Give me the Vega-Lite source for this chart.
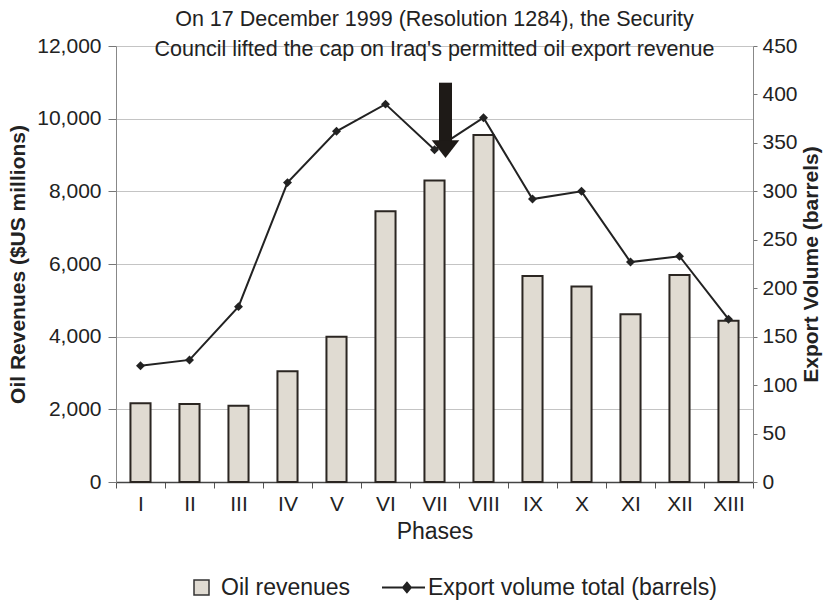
{
  "$schema": "https://vega.github.io/schema/vega-lite/v6.json",
  "width": 637,
  "height": 436,
  "autosize": {"type": "none"},
  "padding": {"left": 116, "top": 46, "right": 83, "bottom": 122},
  "background": "white",
  "config": {
    "font": "Liberation Sans",
    "view": {"stroke": null},
    "axis": {"labelColor": "#222", "titleColor": "#222", "labelFont": "Liberation Sans", "titleFont": "Liberation Sans"}
  },
  "title": {
    "text": ["On 17 December 1999 (Resolution 1284), the Security", "Council lifted the cap on Iraq's permitted oil export revenue"],
    "fontSize": 21.5,
    "fontWeight": "normal",
    "font": "Liberation Sans",
    "color": "#222",
    "lineHeight": 30,
    "anchor": "middle",
    "baseline": "bottom",
    "offset": -47
  },
  "datasets": {
    "phases": [
      {"phase": "I", "revenue": 2170, "volume": 120},
      {"phase": "II", "revenue": 2150, "volume": 126},
      {"phase": "III", "revenue": 2100, "volume": 181},
      {"phase": "IV", "revenue": 3050, "volume": 309},
      {"phase": "V", "revenue": 4000, "volume": 362},
      {"phase": "VI", "revenue": 7450, "volume": 390},
      {"phase": "VII", "revenue": 8300, "volume": 343},
      {"phase": "VIII", "revenue": 9550, "volume": 376},
      {"phase": "IX", "revenue": 5670, "volume": 292},
      {"phase": "X", "revenue": 5380, "volume": 300},
      {"phase": "XI", "revenue": 4620, "volume": 227},
      {"phase": "XII", "revenue": 5700, "volume": 233},
      {"phase": "XIII", "revenue": 4440, "volume": 168}
    ],
    "arrow": [
      {"phase": "VII", "top": 10990, "base": 9300, "head": 9173}
    ]
  },
  "layer": [
    {
      "data": {"name": "phases"},
      "mark": {"type": "bar", "width": {"band": 0.41}, "stroke": "#2b2622", "strokeWidth": 2},
      "encoding": {
        "x": {
          "field": "phase", "type": "ordinal",
          "scale": {"domain": ["I","II","III","IV","V","VI","VII","VIII","IX","X","XI","XII","XIII"], "paddingInner": 0, "paddingOuter": 0},
          "axis": {
            "title": "Phases", "titleFontSize": 23, "titleFontWeight": "normal", "titlePadding": 6,
            "labelFontSize": 21, "labelAngle": 0, "labelPadding": 5,
            "tickBand": "extent", "tickSize": 6, "tickColor": "#555", "domainColor": "#444", "domainWidth": 1.5
          }
        },
        "y": {
          "field": "revenue", "type": "quantitative",
          "scale": {"domain": [0, 12000], "nice": false},
          "axis": {
            "title": "Oil Revenues ($US millions)", "titleFontSize": 21, "titleFontWeight": "bold", "titlePadding": 8,
            "values": [0, 2000, 4000, 6000, 8000, 10000, 12000], "format": ",.0f",
            "labelFontSize": 21, "labelPadding": 7, "tickSize": 8, "tickColor": "#777",
            "domainColor": "#888", "gridColor": "#c4c4c4", "grid": true
          }
        },
        "fill": {
          "datum": "Oil revenues", "type": "nominal",
          "scale": {"domain": ["Oil revenues"], "range": ["#e0dbd2"]},
          "legend": {
            "title": null, "orient": "none", "legendX": 74, "legendY": 530,
            "labelFontSize": 23, "labelColor": "#222", "labelFont": "Liberation Sans", "labelLimit": 0,
            "symbolType": "square", "symbolSize": 225, "labelOffset": 8,
            "symbolStrokeWidth": 1.5, "symbolStrokeColor": "#333", "symbolOpacity": 1
          }
        }
      }
    },
    {
      "data": {"name": "phases"},
      "mark": {"type": "line", "strokeWidth": 2},
      "encoding": {
        "x": {"field": "phase", "type": "ordinal"},
        "y": {
          "field": "volume", "type": "quantitative",
          "scale": {"domain": [0, 450], "nice": false},
          "axis": {
            "orient": "right", "title": "Export Volume (barrels)", "titleFontSize": 21, "titleFontWeight": "bold",
            "titleAngle": 270, "titleBaseline": "top", "titlePadding": 3,
            "values": [0, 50, 100, 150, 200, 250, 300, 350, 400, 450],
            "labelFontSize": 21, "labelPadding": 5, "tickSize": 4, "tickColor": "#777", "domainColor": "#888", "grid": false
          }
        },
        "stroke": {
          "datum": "Export volume total (barrels)", "type": "nominal",
          "scale": {"domain": ["Export volume total (barrels)"], "range": ["#222222"]},
          "legend": {
            "title": null, "orient": "none", "legendX": 265, "legendY": 519,
            "labelFontSize": 23, "labelColor": "#222", "labelFont": "Liberation Sans", "labelLimit": 0,
            "symbolSize": 1849, "labelOffset": 2,
            "symbolStrokeWidth": 1.8, "symbolFillColor": "#222", "symbolOpacity": 1,
            "symbolType": "M-1,0H1M0.16,-0.23L0.35,0L0.16,0.23L-0.03,0Z"
          }
        }
      }
    },
    {
      "data": {"name": "phases"},
      "mark": {"type": "point", "shape": "diamond", "filled": true, "size": 80, "opacity": 1, "color": "#222"},
      "encoding": {
        "x": {"field": "phase", "type": "ordinal"},
        "y": {"field": "volume", "type": "quantitative", "scale": {"domain": [0, 450], "nice": false}, "axis": null}
      }
    },
    {
      "data": {"name": "arrow"},
      "mark": {"type": "rule", "strokeWidth": 13, "color": "#1e1a17", "xOffset": 11, "strokeCap": "butt"},
      "encoding": {
        "x": {"field": "phase", "type": "ordinal"},
        "y": {"field": "top", "type": "quantitative", "scale": {"domain": [0, 12000], "nice": false}, "axis": null},
        "y2": {"field": "base"}
      }
    },
    {
      "data": {"name": "arrow"},
      "mark": {"type": "point", "shape": "M-1,-0.62L1,-0.62L0,0.68Z", "filled": true, "size": 760, "color": "#1e1a17", "opacity": 1, "xOffset": 11},
      "encoding": {
        "x": {"field": "phase", "type": "ordinal"},
        "y": {"field": "head", "type": "quantitative", "scale": {"domain": [0, 12000], "nice": false}, "axis": null}
      }
    }
  ],
  "resolve": {"scale": {"y": "independent"}}
}
